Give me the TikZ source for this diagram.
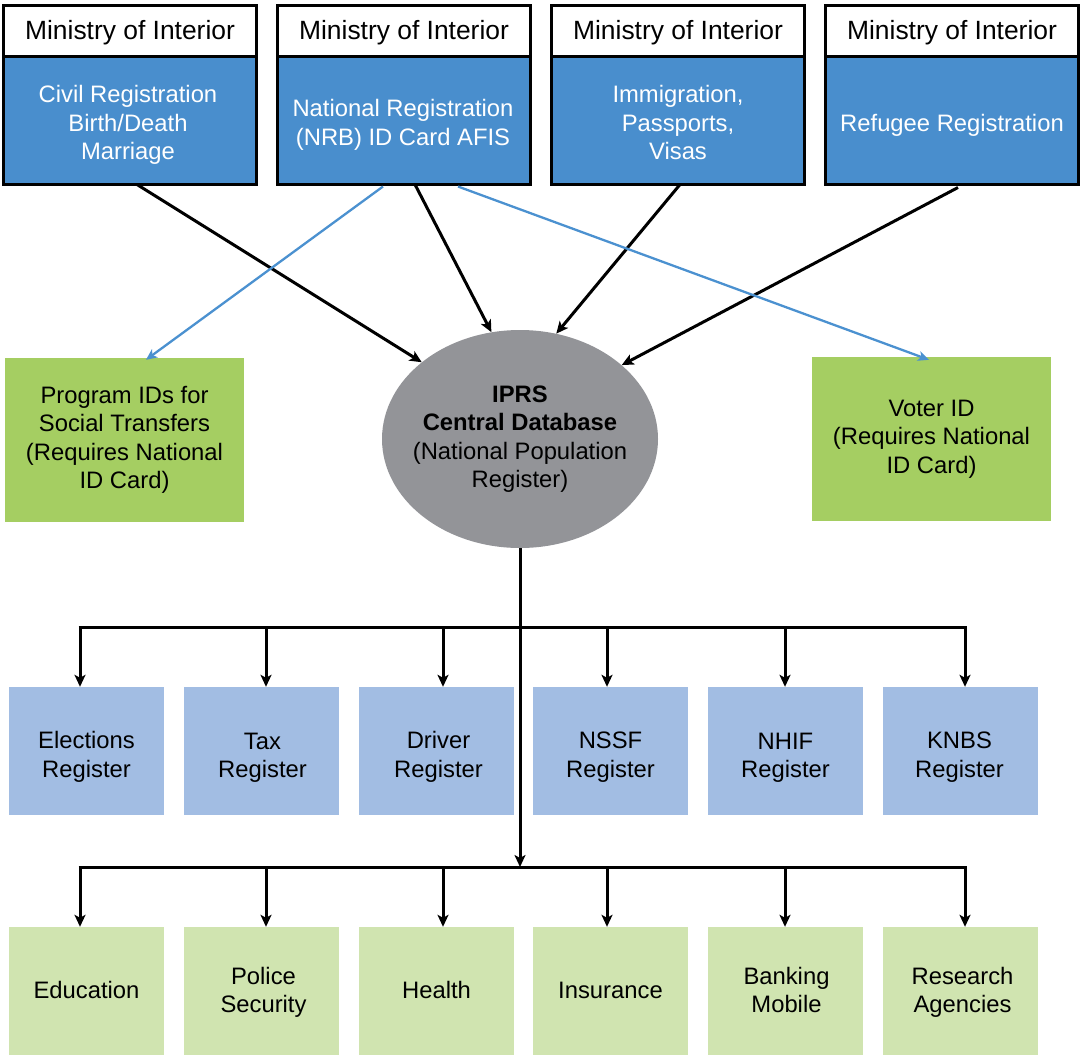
\documentclass[tikz,border=0pt]{standalone}
\usepackage{fontspec}
\setmainfont{Liberation Sans}
\usetikzlibrary{arrows.meta,shapes.geometric}
\definecolor{topblue}{RGB}{73,142,205}
\definecolor{progreen}{RGB}{165,206,98}
\definecolor{regblue}{RGB}{162,189,227}
\definecolor{usegreen}{RGB}{208,228,176}
\definecolor{dbgray}{RGB}{147,148,152}
\definecolor{linkblue}{RGB}{75,145,208}
\tikzset{
  base/.style={inner sep=0pt,align=center,font=\fontsize{23.8}{28.5}\selectfont},
  header/.style={base,draw=black,line width=3pt,fill=white,minimum width=253pt,minimum height=51pt},
  headtext/.style={base,font=\fontsize{26.4}{30}\selectfont},
  agency/.style={base,draw=black,line width=3pt,fill=topblue,minimum width=253pt,minimum height=128pt},
  agencytext/.style={base,text=white},
  idbox/.style={base,fill=progreen,minimum width=239pt,minimum height=164pt},
  regbox/.style={base,fill=regblue,minimum width=155pt,minimum height=128pt},
  usebox/.style={base,fill=usegreen,minimum width=155pt,minimum height=128pt},
  dbnode/.style={ellipse,fill=dbgray,inner sep=0pt,minimum width=276pt,minimum height=218pt},
  arr/.style={line width=3pt,-{Stealth[length=12pt,width=11pt,inset=3pt]}},
  barr/.style={line width=2.3pt,draw=linkblue,-{Stealth[length=11pt,width=10pt,inset=3pt]}},
  bus/.style={line width=3pt}
}
\begin{document}
\begin{tikzpicture}[x=1pt,y=-1pt]
\useasboundingbox (0,0) rectangle (1081,1055);
% top row
\node[header] (h1) at (130,30.5) {};
\node[header] (h2) at (404,30.5) {};
\node[header] (h3) at (678,30.5) {};
\node[header] (h4) at (952,30.5) {};
\node[headtext] (h1t) at (130,32.5) {Ministry of Interior};
\node[headtext] (h2t) at (404,32.5) {Ministry of Interior};
\node[headtext] (h3t) at (678,32.5) {Ministry of Interior};
\node[headtext] (h4t) at (952,32.5) {Ministry of Interior};
\node[agency] (a1) at (130,120) {};
\node[agency] (a2) at (404,120) {};
\node[agency] (a3) at (678,120) {};
\node[agency] (a4) at (952,120) {};
\node[agencytext] (a1t) at (128,125) {Civil Registration\\Birth/Death\\Marriage};
\node[agencytext] (a2t) at (403,125) {National Registration\\(NRB) ID Card AFIS};
\node[agencytext] (a3t) at (678,122.5) {Immigration,\\Passports,\\Visas};
\node[agencytext] (a4t) at (952,125) {Refugee Registration};
% middle
\node[idbox] (prog) at (124.5,440) {Program IDs for\\Social Transfers\\(Requires National\\ID Card)};
\node[idbox] (voter) at (931.5,439) {Voter ID\\(Requires National\\ID Card)};
\node[dbnode] (db) at (520,439) {};
\node[base] (dbtext) at (db.center) {\textbf{IPRS}\\\textbf{Central Database}\\(National Population\\Register)};
% registers
\node[regbox] (r1) at (86.5,751) {};
\node[regbox] (r2) at (261.5,751) {};
\node[regbox] (r3) at (436.5,751) {};
\node[regbox] (r4) at (610.5,751) {};
\node[regbox] (r5) at (785.5,751) {};
\node[regbox] (r6) at (960.5,751) {};
\node[base] (r1t) at (86.5,757) {Elections\\Register};
\node[base] (r2t) at (262.5,758) {Tax\\Register};
\node[base] (r3t) at (438.5,757) {Driver\\Register};
\node[base] (r4t) at (610.5,757) {NSSF\\Register};
\node[base] (r5t) at (785.5,758) {NHIF\\Register};
\node[base] (r6t) at (959.5,757) {KNBS\\Register};
% users
\node[usebox] (u1) at (86.5,991) {};
\node[usebox] (u2) at (261.5,991) {};
\node[usebox] (u3) at (436.5,991) {};
\node[usebox] (u4) at (610.5,991) {};
\node[usebox] (u5) at (785.5,991) {};
\node[usebox] (u6) at (960.5,991) {};
\node[base] (u1t) at (86.5,990) {Education};
\node[base] (u2t) at (263.5,992.5) {Police\\Security};
\node[base] (u3t) at (436.5,990) {Health};
\node[base] (u4t) at (610.5,990) {Insurance};
\node[base] (u5t) at (786.5,990) {Banking\\Mobile};
\node[base] (u6t) at (962.5,992.5) {Research\\Agencies};
% arrows into database
\draw[arr] ([xshift=7pt,yshift=1pt]a1.south) -- (db.142.6);
\draw[arr] ([xshift=11pt,yshift=1pt]a2.south) -- (db.105.5);
\draw[arr] ([xshift=2pt,yshift=1pt]a3.south) -- (db.71);
\draw[arr] ([xshift=6pt,yshift=-2pt]a4.south) -- (db.36);
% blue links
\draw[barr] ([xshift=-21pt,yshift=-1pt]a2.south) -- ([xshift=21.5pt,yshift=-2pt]prog.north);
\draw[barr] ([xshift=54pt,yshift=-1pt]a2.south) -- ([xshift=-2.5pt,yshift=-3pt]voter.north);
% tree
\coordinate (busA) at (520,627);
\coordinate (busB) at (520,867);
\draw[arr] (db.south) -- (busB);
\draw[bus] (78.5,627) -- (966.5,627);
\draw[bus] (78.5,867) -- (966.5,867);
\coordinate (ta1) at (80,627);
\coordinate (ta2) at (266,627);
\coordinate (ta3) at (443,627);
\coordinate (ta4) at (607,627);
\coordinate (ta5) at (785,627);
\coordinate (ta6) at (965,627);
\coordinate (tb1) at (80,867);
\coordinate (tb2) at (266,867);
\coordinate (tb3) at (443,867);
\coordinate (tb4) at (607,867);
\coordinate (tb5) at (785,867);
\coordinate (tb6) at (965,867);
\foreach \i in {1,...,6}{
  \draw[arr] (ta\i) -- (ta\i |- r\i.north);
  \draw[arr] (tb\i) -- (tb\i |- u\i.north);
}
\end{tikzpicture}
\end{document}
